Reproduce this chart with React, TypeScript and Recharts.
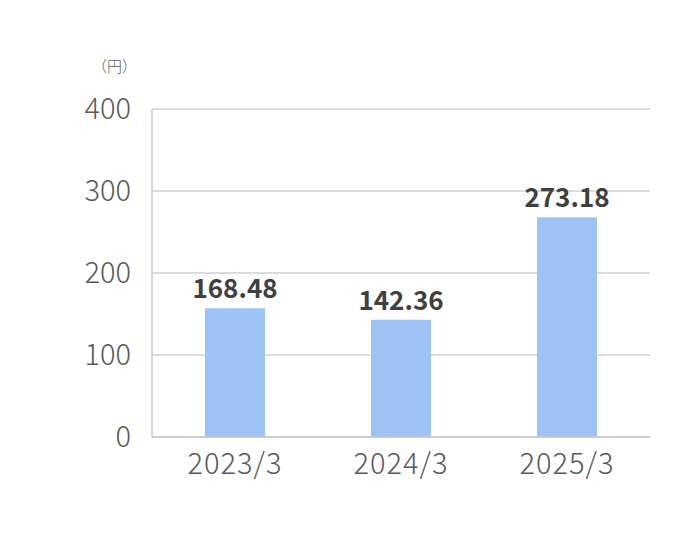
import React from 'react';
import { BarChart, Bar, XAxis, YAxis, CartesianGrid, LabelList } from 'recharts';

const categories = ['2023/3', '2024/3', '2025/3'];
const barValues = [157, 143, 268];
const labelTexts = ['168.48', '142.36', '273.18'];
const yTicks = [0, 100, 200, 300, 400];
const unitLabel = '（円）';

const data = categories.map((c, i) => ({ name: c, value: barValues[i], label: labelTexts[i] }));

const FONT = '"Noto Sans CJK JP", "Noto Sans", sans-serif';

export default function App() {
  return (
    <div style={{ position: 'absolute', left: 0, top: 0, width: 690, height: 544, background: '#fff' }}>
      <div
        style={{
          position: 'absolute',
          left: 92,
          top: 55,
          fontFamily: FONT,
          fontSize: 15,
          fontWeight: 300,
          color: '#595959',
        }}
      >
        {unitLabel}
      </div>
      <BarChart
        width={690}
        height={544}
        data={data}
        margin={{ top: 109, right: 40, bottom: 67, left: 0 }}
        barCategoryGap={0}
      >
        <CartesianGrid vertical={false} stroke="#d0d0d0" strokeWidth={1.5} />
        <XAxis
          dataKey="name"
          height={40}
          tickLine={false}
          tickSize={0}
          tickMargin={16}
          axisLine={{ stroke: '#c8c8c8', strokeWidth: 1.5 }}
          tick={{ fill: '#595959', fontSize: 29, fontWeight: 300, fontFamily: FONT, letterSpacing: 1 }}
        />
        <YAxis
          width={152}
          domain={[0, 400]}
          ticks={yTicks}
          tickLine={false}
          tickSize={0}
          tickMargin={21}
          axisLine={{ stroke: '#c8c8c8', strokeWidth: 1.5 }}
          tick={{ fill: '#595959', fontSize: 29, fontWeight: 300, fontFamily: FONT }}
          interval={0}
        />
        <Bar dataKey="value" fill="#9cc3f4" barSize={60} isAnimationActive={false}>
          <LabelList
            dataKey="label"
            position="top"
            offset={10}
            fill="#404040"
            style={{ fontSize: 26, fontWeight: 700, fontFamily: FONT }}
          />
        </Bar>
      </BarChart>
    </div>
  );
}
